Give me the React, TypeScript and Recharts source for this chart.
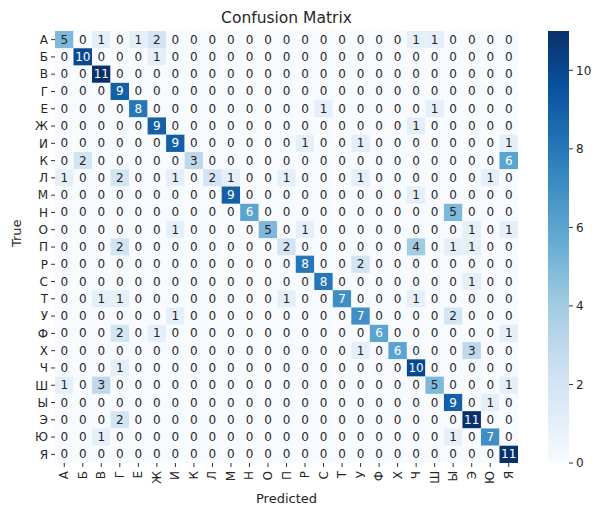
import React from "react";
import { ScatterChart, Scatter, XAxis, YAxis, BarChart, Bar } from "recharts";

const labels = ["А", "Б", "В", "Г", "Е", "Ж", "И", "К", "Л", "М", "Н", "О", "П", "Р", "С", "Т", "У", "Ф", "Х", "Ч", "Ш", "Ы", "Э", "Ю", "Я"];

// rows = true class, columns = predicted class
const matrix = [
  [5, 0, 1, 0, 1, 2, 0, 0, 0, 0, 0, 0, 0, 0, 0, 0, 0, 0, 0, 1, 1, 0, 0, 0, 0],
  [0, 10, 0, 0, 0, 1, 0, 0, 0, 0, 0, 0, 0, 0, 0, 0, 0, 0, 0, 0, 0, 0, 0, 0, 0],
  [0, 0, 11, 0, 0, 0, 0, 0, 0, 0, 0, 0, 0, 0, 0, 0, 0, 0, 0, 0, 0, 0, 0, 0, 0],
  [0, 0, 0, 9, 0, 0, 0, 0, 0, 0, 0, 0, 0, 0, 0, 0, 0, 0, 0, 0, 0, 0, 0, 0, 0],
  [0, 0, 0, 0, 8, 0, 0, 0, 0, 0, 0, 0, 0, 0, 1, 0, 0, 0, 0, 0, 1, 0, 0, 0, 0],
  [0, 0, 0, 0, 0, 9, 0, 0, 0, 0, 0, 0, 0, 0, 0, 0, 0, 0, 0, 1, 0, 0, 0, 0, 0],
  [0, 0, 0, 0, 0, 0, 9, 0, 0, 0, 0, 0, 0, 1, 0, 0, 1, 0, 0, 0, 0, 0, 0, 0, 1],
  [0, 2, 0, 0, 0, 0, 0, 3, 0, 0, 0, 0, 0, 0, 0, 0, 0, 0, 0, 0, 0, 0, 0, 0, 6],
  [1, 0, 0, 2, 0, 0, 1, 0, 2, 1, 0, 0, 1, 0, 0, 0, 1, 0, 0, 0, 0, 0, 0, 1, 0],
  [0, 0, 0, 0, 0, 0, 0, 0, 0, 9, 0, 0, 0, 0, 0, 0, 0, 0, 0, 1, 0, 0, 0, 0, 0],
  [0, 0, 0, 0, 0, 0, 0, 0, 0, 0, 6, 0, 0, 0, 0, 0, 0, 0, 0, 0, 0, 5, 0, 0, 0],
  [0, 0, 0, 0, 0, 0, 1, 0, 0, 0, 0, 5, 0, 1, 0, 0, 0, 0, 0, 0, 0, 0, 1, 0, 1],
  [0, 0, 0, 2, 0, 0, 0, 0, 0, 0, 0, 0, 2, 0, 0, 0, 0, 0, 0, 4, 0, 1, 1, 0, 0],
  [0, 0, 0, 0, 0, 0, 0, 0, 0, 0, 0, 0, 0, 8, 0, 0, 2, 0, 0, 0, 0, 0, 0, 0, 0],
  [0, 0, 0, 0, 0, 0, 0, 0, 0, 0, 0, 0, 0, 0, 8, 0, 0, 0, 0, 0, 0, 0, 1, 0, 0],
  [0, 0, 1, 1, 0, 0, 0, 0, 0, 0, 0, 0, 1, 0, 0, 7, 0, 0, 0, 1, 0, 0, 0, 0, 0],
  [0, 0, 0, 0, 0, 0, 1, 0, 0, 0, 0, 0, 0, 0, 0, 0, 7, 0, 0, 0, 0, 2, 0, 0, 0],
  [0, 0, 0, 2, 0, 1, 0, 0, 0, 0, 0, 0, 0, 0, 0, 0, 0, 6, 0, 0, 0, 0, 0, 0, 1],
  [0, 0, 0, 0, 0, 0, 0, 0, 0, 0, 0, 0, 0, 0, 0, 0, 1, 0, 6, 0, 0, 0, 3, 0, 0],
  [0, 0, 0, 1, 0, 0, 0, 0, 0, 0, 0, 0, 0, 0, 0, 0, 0, 0, 0, 10, 0, 0, 0, 0, 0],
  [1, 0, 3, 0, 0, 0, 0, 0, 0, 0, 0, 0, 0, 0, 0, 0, 0, 0, 0, 0, 5, 0, 0, 0, 1],
  [0, 0, 0, 0, 0, 0, 0, 0, 0, 0, 0, 0, 0, 0, 0, 0, 0, 0, 0, 0, 0, 9, 0, 1, 0],
  [0, 0, 0, 2, 0, 0, 0, 0, 0, 0, 0, 0, 0, 0, 0, 0, 0, 0, 0, 0, 0, 0, 11, 0, 0],
  [0, 0, 1, 0, 0, 0, 0, 0, 0, 0, 0, 0, 0, 0, 0, 0, 0, 0, 0, 0, 0, 1, 0, 7, 0],
  [0, 0, 0, 0, 0, 0, 0, 0, 0, 0, 0, 0, 0, 0, 0, 0, 0, 0, 0, 0, 0, 0, 0, 0, 11],
];

const colorbarTicks = [0, 2, 4, 6, 8, 10];
const vmax = 11;

// matplotlib "Blues"
const blues = ["#f7fbff", "#deebf7", "#c6dbef", "#9ecae1", "#6baed6", "#4292c6", "#2171b5", "#08519c", "#08306b"];

const W = 594;
const H = 510;
const plot = { left: 55, top: 31, right: 518, bottom: 463 };
const n = labels.length;
const cellW = (plot.right - plot.left) / n;
const cellH = (plot.bottom - plot.top) / n;
const FONT = "DejaVu Sans, sans-serif";

function hexToRgb(h: string) {
  return [parseInt(h.slice(1, 3), 16), parseInt(h.slice(3, 5), 16), parseInt(h.slice(5, 7), 16)];
}

function bluesRgb(t: number) {
  const s = Math.max(0, Math.min(1, t)) * (blues.length - 1);
  const i = Math.min(Math.floor(s), blues.length - 2);
  const f = s - i;
  const a = hexToRgb(blues[i]);
  const b = hexToRgb(blues[i + 1]);
  return a.map((c, k) => Math.round(c + (b[k] - c) * f));
}

function luminance(rgb: number[]) {
  const lin = rgb.map((c) => {
    const v = c / 255;
    return v <= 0.03928 ? v / 12.92 : Math.pow((v + 0.055) / 1.055, 2.4);
  });
  return 0.2126 * lin[0] + 0.7152 * lin[1] + 0.0722 * lin[2];
}

const cells = matrix.flatMap((row, r) => row.map((v, c) => ({ x: c, y: r, v })));

const Cell = (props: any) => {
  const { cx, cy, payload } = props;
  const rgb = bluesRgb(payload.v / vmax);
  const textColor = luminance(rgb) > 0.408 ? "#262626" : "#ffffff";
  return (
    <g>
      <rect
        x={cx - cellW / 2}
        y={cy - cellH / 2}
        width={cellW}
        height={cellH}
        fill={`rgb(${rgb.join(",")})`}
      />
      <text
        x={cx}
        y={cy}
        textAnchor="middle"
        dominantBaseline="central"
        fontSize={12}
        fontFamily={FONT}
        fill={textColor}
      >
        {payload.v}
      </text>
    </g>
  );
};

const XTick = (props: any) => {
  const { x, y, payload } = props;
  return (
    <text
      transform={`translate(${x},${y}) rotate(-90)`}
      textAnchor="end"
      dominantBaseline="central"
      fontSize={12}
      fontFamily={FONT}
      fill="#262626"
    >
      {labels[payload.value]}
    </text>
  );
};

const idx = labels.map((_, i) => i);

export default function App() {
  return (
    <div style={{ position: "absolute", left: 0, top: 0, width: W, height: H, background: "#fff", fontFamily: FONT }}>
      <svg width={0} height={0} style={{ position: "absolute" }}>
        <defs>
          <linearGradient id="bluesGrad" x1="0" y1="1" x2="0" y2="0">
            {blues.map((c, i) => (
              <stop key={i} offset={i / (blues.length - 1)} stopColor={c} />
            ))}
          </linearGradient>
        </defs>
      </svg>
      <div
        style={{
          position: "absolute",
          top: 8,
          left: plot.left,
          width: plot.right - plot.left,
          textAlign: "center",
          fontSize: 15.5,
          color: "#262626",
          lineHeight: "20px",
        }}
      >
        Confusion Matrix
      </div>
      <div style={{ position: "absolute", left: 0, top: 0 }}>
        <ScatterChart
          width={W}
          height={H}
          margin={{ top: plot.top, right: W - plot.right, bottom: 0, left: 0 }}
        >
          <XAxis
            type="number"
            dataKey="x"
            domain={[-0.5, n - 0.5]}
            ticks={idx}
            interval={0}
            height={H - plot.bottom}
            tickSize={4}
            tickMargin={4}
            tick={<XTick />}
            axisLine={false}
            tickLine={{ stroke: "#333" }}
            label={{ value: "Predicted", position: "insideBottom", offset: 7, fontSize: 13, fill: "#262626", fontFamily: FONT }}
          />
          <YAxis
            type="number"
            dataKey="y"
            reversed
            domain={[-0.5, n - 0.5]}
            ticks={idx}
            interval={0}
            width={plot.left}
            tickSize={4}
            tickMargin={3}
            tickFormatter={(i: number) => labels[i]}
            tick={{ fontSize: 12, fill: "#262626", fontFamily: FONT }}
            axisLine={false}
            tickLine={{ stroke: "#333" }}
            label={{ value: "True", angle: -90, position: "insideLeft", offset: 16, fontSize: 13, fill: "#262626", fontFamily: FONT }}
          />
          <Scatter data={cells} shape={<Cell />} isAnimationActive={false} />
        </ScatterChart>
      </div>
      <div style={{ position: "absolute", left: 548, top: plot.top - 8 }}>
        <BarChart
          width={46}
          height={plot.bottom - plot.top + 16}
          data={[{ name: "cb", v: vmax }]}
          margin={{ top: 8, right: 0, bottom: 8, left: 0 }}
          barCategoryGap={0}
        >
          <XAxis dataKey="name" hide />
          <YAxis
            orientation="right"
            domain={[0, vmax]}
            ticks={colorbarTicks}
            width={25}
            tickSize={4}
            tickMargin={3}
            axisLine={false}
            tickLine={{ stroke: "#333" }}
            tick={{ fontSize: 12, fill: "#262626", fontFamily: FONT }}
          />
          <Bar dataKey="v" fill="url(#bluesGrad)" isAnimationActive={false} />
        </BarChart>
      </div>
    </div>
  );
}
